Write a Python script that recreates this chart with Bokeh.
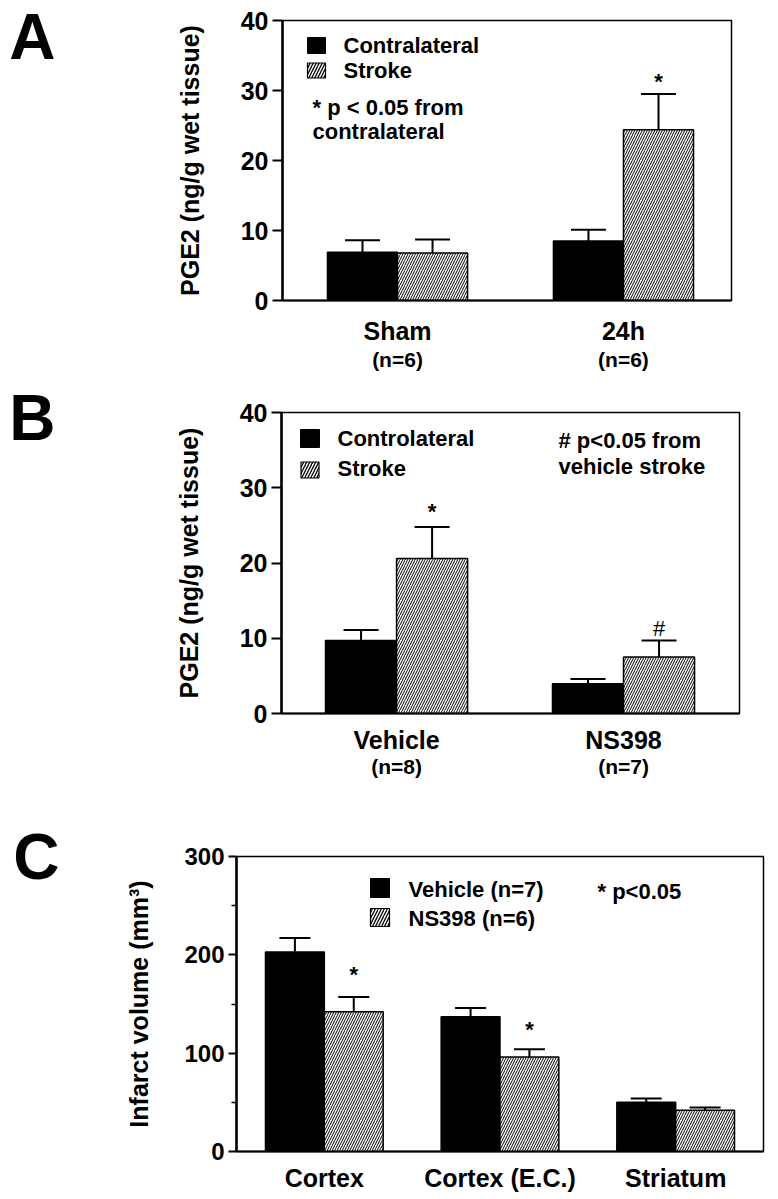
from bokeh.plotting import figure
from bokeh.layouts import column
from bokeh.models import (Range1d, FixedTicker, Label, Whisker, TeeHead,
                          ColumnDataSource, LinearAxis)
from bokeh.embed import file_html
from bokeh.resources import INLINE

FONT = "Liberation Sans"
PAGE_W = 778

# ---------------- data ----------------
# Panel A
a_groups = ["Sham", "24h"]
a_n = ["(n=6)", "(n=6)"]
a_contra = [6.9, 8.5]
a_contra_err = [1.7, 1.6]
a_stroke = [6.8, 24.4]
a_stroke_err = [1.9, 5.1]

# Panel B
b_groups = ["Vehicle", "NS398"]
b_n = ["(n=8)", "(n=7)"]
b_contra = [9.7, 3.95]
b_contra_err = [1.4, 0.65]
b_stroke = [20.6, 7.5]
b_stroke_err = [4.2, 2.2]

# Panel C
c_regions = ["Cortex", "Cortex (E.C.)", "Striatum"]
c_vehicle = [203, 137, 50]
c_vehicle_err = [14, 9, 4]
c_ns398 = [142, 96, 42]
c_ns398_err = [15, 8, 2.8]


# ---------------- helpers ----------------
def make_fig(height, frame, fig_top, xr, yr):
    L, T, R, B = frame
    p = figure(width=PAGE_W, height=height,
               x_range=Range1d(*xr), y_range=Range1d(*yr),
               output_backend="svg", toolbar_location=None,
               min_border_left=L, min_border_right=PAGE_W - R,
               min_border_top=T - fig_top, min_border_bottom=fig_top + height - B)
    p.frame_align = False
    p.xgrid.visible = False
    p.ygrid.visible = False
    p.outline_line_color = "black"
    p.outline_line_width = 1.5
    p.outline_line_alpha = 1.0
    p.background_fill_color = "white"
    p.border_fill_color = "white"
    return p


def conv(frame, xr, yr):
    L, T, R, B = frame

    def f(px, py):
        x = xr[0] + (px - L) / (R - L) * (xr[1] - xr[0])
        y = yr[0] + (B - py) / (B - T) * (yr[1] - yr[0])
        return x, y
    return f


def style_axes(p, groups, yticks, yminor, ylabel, tick_font, ylabel_std, xl_std, tick_out):
    xa = p.xaxis[0]
    xa.ticker = FixedTicker(ticks=list(range(1, len(groups) + 1)))
    xa.major_label_overrides = {i + 1: g for i, g in enumerate(groups)}
    xa.major_tick_line_color = None
    xa.minor_tick_line_color = None
    xa.major_tick_out = 0
    xa.major_tick_in = 0
    xa.axis_line_width = 2
    xa.axis_line_color = "black"
    xa.major_label_standoff = xl_std
    xa.major_label_text_font = FONT
    xa.major_label_text_font_style = "bold"
    xa.major_label_text_font_size = "25px"
    xa.major_label_text_color = "black"

    ya = p.yaxis[0]
    ya.ticker = FixedTicker(ticks=yticks, minor_ticks=yminor)
    ya.axis_line_width = 2.5
    ya.axis_line_color = "black"
    ya.major_tick_out = tick_out
    ya.major_tick_in = 0
    ya.major_tick_line_width = 2
    ya.minor_tick_out = 5
    ya.minor_tick_in = 0
    ya.minor_tick_line_width = 1.5
    if not yminor:
        ya.minor_tick_line_color = None
    ya.major_label_standoff = 4
    ya.major_label_text_font = FONT
    ya.major_label_text_font_style = "bold"
    ya.major_label_text_font_size = tick_font
    ya.major_label_text_color = "black"
    ya.axis_label = ylabel
    ya.axis_label_text_font = FONT
    ya.axis_label_text_font_style = "bold"
    ya.axis_label_text_font_size = "25px"
    ya.axis_label_text_color = "black"
    ya.axis_label_standoff = ylabel_std


def n_axis(p, nlabels, standoff):
    ax = LinearAxis(ticker=FixedTicker(ticks=list(range(1, len(nlabels) + 1))),
                    major_label_overrides={i + 1: t for i, t in enumerate(nlabels)})
    ax.axis_line_color = None
    ax.major_tick_line_color = None
    ax.minor_tick_line_color = None
    ax.major_tick_out = 0
    ax.major_tick_in = 0
    ax.major_label_standoff = standoff
    ax.major_label_text_font = FONT
    ax.major_label_text_font_style = "bold"
    ax.major_label_text_font_size = "21px"
    ax.major_label_text_color = "black"
    p.add_layout(ax, "below")


def letter_axis(p, yval, text, standoff):
    ax = LinearAxis(ticker=FixedTicker(ticks=[yval]), major_label_overrides={yval: text})
    ax.axis_line_color = None
    ax.major_tick_line_color = None
    ax.minor_tick_line_color = None
    ax.major_tick_out = 0
    ax.major_tick_in = 0
    ax.major_label_standoff = standoff
    ax.major_label_text_font = FONT
    ax.major_label_text_font_style = "bold"
    ax.major_label_text_font_size = "64px"
    ax.major_label_text_color = "black"
    p.add_layout(ax, "left")


def bars(p, n, v1, e1, v2, e2, w, cap, hscale):
    xs = list(range(1, n + 1))
    x1 = [x - w / 2 for x in xs]
    x2 = [x + w / 2 for x in xs]
    p.vbar(x=x1, top=v1, bottom=0, width=w, fill_color="black",
           line_color="black", line_width=1.5)
    p.vbar(x=x2, top=v2, bottom=0, width=w, fill_color="white",
           line_color="black", line_width=1.5, hatch_pattern="/",
           hatch_color="black", hatch_scale=hscale, hatch_weight=1)
    for xx, v, e in ((x1, v1, e1), (x2, v2, e2)):
        src = ColumnDataSource(dict(x=xx, lower=v, upper=[a + b for a, b in zip(v, e)]))
        p.add_layout(Whisker(source=src, base="x", lower="lower", upper="upper",
                             dimension="height", line_color="black", line_width=2,
                             upper_head=TeeHead(size=cap, line_color="black", line_width=2),
                             lower_head=None, level="overlay"))
    return x2


def label(p, x, y, text, size="22px", style="bold", align="left", baseline="middle"):
    p.add_layout(Label(x=x, y=y, text=text, text_font=FONT, text_font_style=style,
                       text_font_size=size, text_color="black", text_align=align,
                       text_baseline=baseline))


def swatch(p, x, y, w, h, hatched):
    if hatched:
        p.rect(x=[x], y=[y], width=w, height=h, width_units="screen", height_units="screen",
               fill_color="white", line_color="black", line_width=1.2,
               hatch_pattern="/", hatch_color="black", hatch_scale=6, hatch_weight=1.3)
    else:
        p.rect(x=[x], y=[y], width=w, height=h, width_units="screen", height_units="screen",
               fill_color="black", line_color="black")


# ---------------- Panel A ----------------
frA = (282, 20, 731, 300)
xrA, yrA = (0.491, 2.478), (0, 40)
pA = make_fig(380, frA, 0, xrA, yrA)
cA = conv(frA, xrA, yrA)
style_axes(pA, a_groups, [0, 10, 20, 30, 40], [], "PGE2 (ng/g wet tissue)", "25px", 34, 16, 10)
n_axis(pA, a_n, 0)
letter_axis(pA, 37.64, "A", 117)
sx = bars(pA, len(a_groups), a_contra, a_contra_err, a_stroke, a_stroke_err, 0.31, 35, 5)
label(pA, sx[1], cA(0, 81)[1], "*", size="22px", align="center", baseline="alphabetic")
swatch(pA, *cA(316, 45), 18, 16, False)
swatch(pA, *cA(316, 70), 18, 15, True)
label(pA, *cA(343, 45), "Contralateral")
label(pA, *cA(343, 70), "Stroke")
label(pA, *cA(312, 107.4), "* p < 0.05 from")
label(pA, *cA(312, 131), "contralateral")

# ---------------- Panel B ----------------
frB = (281, 412, 739, 713)
xrB, yrB = (0.493, 2.511), (0, 40)
pB = make_fig(410, frB, 380, xrB, yrB)
cB = conv(frB, xrB, yrB)
style_axes(pB, b_groups, [0, 10, 20, 30, 40], [], "PGE2 (ng/g wet tissue)", "25px", 34, 12, 10)
n_axis(pB, b_n, -2)
letter_axis(pB, 39.28, "B", 116)
sx = bars(pB, len(b_groups), b_contra, b_contra_err, b_stroke, b_stroke_err, 0.313, 35, 5)
label(pB, sx[0], cB(0, 510.6)[1], "*", size="22px", align="center", baseline="alphabetic")
label(pB, sx[1], cB(0, 628)[1], "#", size="22px", style="normal", align="center", baseline="alphabetic")
swatch(pB, *cB(309.5, 438), 19, 18, False)
swatch(pB, *cB(309.5, 469.5), 18, 16, True)
label(pB, *cB(337, 438), "Controlateral")
label(pB, *cB(337, 468), "Stroke")
label(pB, *cB(558, 440), "# p<0.05 from")
label(pB, *cB(558, 466), "vehicle stroke")

# ---------------- Panel C ----------------
frC = (236, 856, 763, 1151)
xrC, yrC = (0.5, 3.5), (0, 300)
pC = make_fig(409, frC, 790, xrC, yrC)
cC = conv(frC, xrC, yrC)
style_axes(pC, c_regions, [0, 100, 200, 300], [50, 150, 250], "Infarct volume (mm³)", "24px", 28, 12, 8)
letter_axis(pC, 299.9, "C", 63)
sx = bars(pC, len(c_regions), c_vehicle, c_vehicle_err, c_ns398, c_ns398_err, 0.335, 31, 5)
label(pC, sx[0], cC(0, 974)[1], "*", size="22px", align="center", baseline="alphabetic")
label(pC, sx[1], cC(0, 1029)[1], "*", size="22px", align="center", baseline="alphabetic")
swatch(pC, *cC(379.5, 887.5), 19, 19, False)
swatch(pC, *cC(379.5, 917), 19, 18, True)
label(pC, *cC(408, 889), "Vehicle (n=7)")
label(pC, *cC(408, 918), "NS398 (n=6)")
label(pC, *cC(597, 891), "* p<0.05")

layout = column(pA, pB, pC, spacing=0)
open("out.html", "w").write(file_html(layout, INLINE))
